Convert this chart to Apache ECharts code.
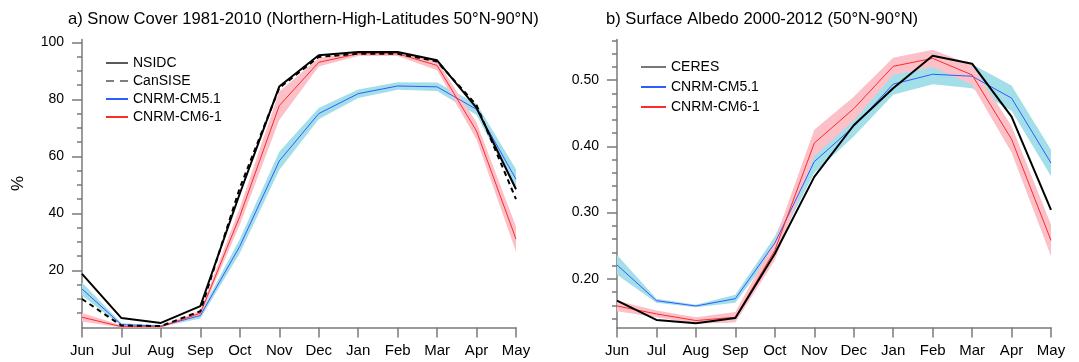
<!DOCTYPE html>
<html>
<head>
<meta charset="utf-8">
<script src="https://cdn.jsdelivr.net/npm/echarts@6/dist/echarts.min.js"></script>
<style>
html,body{margin:0;padding:0;background:#fff;}
#chart{width:1079px;height:362px;}
</style>
</head>
<body>
<div id="chart"></div>
<script>
// ---------- data ----------
var months = ['Jun','Jul','Aug','Sep','Oct','Nov','Dec','Jan','Feb','Mar','Apr','May'];

// a) Snow cover (%)
var snowNSIDC   = [18.8, 3.3, 1.6, 7.5, 47, 84.5, 95.5, 96.6, 96.6, 93.7, 77, 48.5];
var snowCanSISE = [10, 0.7, 0.5, 5.7, 49, 84, 94.9, 96, 96, 93.3, 78, 45];
var snowCM51    = [13.5, 1, 0.5, 4.2, 28.5, 58.4, 75, 82, 84.7, 84.4, 76.5, 52];
var snowCM51Lo  = [11.2, 0.5, 0.2, 3.2, 26, 55.2, 73, 80.5, 83.4, 82.9, 74.5, 48.5];
var snowCM51Hi  = [15.8, 1.5, 0.8, 5.2, 31, 61.6, 77, 83.5, 86, 85.9, 78.5, 55.5];
var snowCM61    = [3.6, 0.3, 0.3, 5, 39, 77.8, 93, 96, 96, 91.9, 68.9, 31];
var snowCM61Lo  = [2.1, 0, 0, 4, 36, 72.8, 91.5, 95.2, 95.2, 90.2, 65.9, 26.6];
var snowCM61Hi  = [5.1, 0.8, 0.6, 6, 42, 82.8, 94.5, 96.8, 96.8, 93.6, 71.9, 35.4];
var snowLabels  = [20, 40, 60, 80, 100];
var snowMinor   = [5, 10, 15, 25, 30, 35, 45, 50, 55, 65, 70, 75, 85, 90, 95];

// b) Surface albedo
var albCERES  = [0.167, 0.138, 0.133, 0.141, 0.238, 0.354, 0.432, 0.488, 0.537, 0.525, 0.445, 0.304];
var albCM51   = [0.221, 0.167, 0.159, 0.170, 0.254, 0.377, 0.430, 0.494, 0.509, 0.506, 0.473, 0.375];
var albCM51Lo = [0.206, 0.164, 0.157, 0.164, 0.244, 0.360, 0.415, 0.478, 0.494, 0.488, 0.454, 0.355];
var albCM51Hi = [0.236, 0.170, 0.161, 0.176, 0.264, 0.394, 0.445, 0.510, 0.524, 0.524, 0.492, 0.395];
var albCM61   = [0.159, 0.147, 0.137, 0.142, 0.243, 0.405, 0.457, 0.521, 0.533, 0.508, 0.411, 0.258];
var albCM61Lo = [0.151, 0.142, 0.132, 0.134, 0.228, 0.385, 0.439, 0.508, 0.520, 0.493, 0.391, 0.234];
var albCM61Hi = [0.167, 0.152, 0.142, 0.150, 0.258, 0.425, 0.475, 0.534, 0.546, 0.523, 0.431, 0.282];
var albLabels = [0.2, 0.3, 0.4, 0.5];
var albMinor  = [0.14, 0.16, 0.18, 0.22, 0.24, 0.26, 0.28, 0.32, 0.34, 0.36, 0.38, 0.42, 0.44, 0.46, 0.48, 0.52, 0.54, 0.56];

// ---------- style ----------
var FONT = "'Liberation Sans', Arial, Helvetica, sans-serif";
var AXC = '#7a7a7a';
var BLUE = '#2f5cff', BLUEBAND = '#a3dfe9';
var RED = '#ff2a2a', REDBAND = '#fbc0c8';

function diff(hi, lo){ return hi.map(function(v,i){ return +(v - lo[i]).toFixed(4); }); }

function bandSeries(name, lo, hi, color, xi, yi){
  return [
    {type:'line', name:name+'_lo', xAxisIndex:xi, yAxisIndex:yi, data:lo, stack:name,
     symbol:'none', lineStyle:{opacity:0}, silent:true, z:1},
    {type:'line', name:name+'_band', xAxisIndex:xi, yAxisIndex:yi, data:diff(hi, lo), stack:name,
     symbol:'none', lineStyle:{opacity:0}, areaStyle:{color:color, opacity:1}, silent:true, z:1}
  ];
}
function lineSeries(name, data, color, width, type, xi, yi, z){
  return {type:'line', name:name, xAxisIndex:xi, yAxisIndex:yi, data:data, symbol:'none',
    lineStyle:{color:color, width:width, type:type}, itemStyle:{color:color}, z:z};
}

function xAx(gi){
  return {type:'category', gridIndex:gi, data:months, boundaryGap:false,
    axisLine:{lineStyle:{color:AXC, width:1.5}},
    axisTick:{show:true, length:10, lineStyle:{color:AXC, width:1.5}, interval:0},
    axisLabel:{color:'#000', fontSize:15, fontFamily:FONT, margin:16, interval:0},
    splitLine:{show:false}};
}
function yMajor(gi, min, max, labels, fmt, name){
  return {type:'value', gridIndex:gi, min:min, max:max, position:'left', offset:0,
    name:name || '', nameLocation:'middle', nameGap:55, nameRotate:90,
    nameTextStyle:{color:'#000', fontSize:17, fontFamily:FONT},
    axisLine:{show:true, onZero:false, lineStyle:{color:AXC, width:1.5}},
    axisTick:{show:true, length:10, customValues:labels, lineStyle:{color:AXC, width:1.5}},
    axisLabel:{color:'#000', fontSize:14, fontFamily:FONT, margin:18, customValues:labels, formatter:fmt},
    splitLine:{show:false}};
}
function yMinor(gi, min, max, ticks){
  return {type:'value', gridIndex:gi, min:min, max:max, position:'left', offset:0,
    axisLine:{show:false, onZero:false},
    axisTick:{show:true, length:5, customValues:ticks, lineStyle:{color:AXC, width:1.5}},
    axisLabel:{show:false},
    splitLine:{show:false}};
}

var series = [].concat(
  bandSeries('s51', snowCM51Lo, snowCM51Hi, BLUEBAND, 0, 0),
  bandSeries('s61', snowCM61Lo, snowCM61Hi, REDBAND, 0, 0),
  [lineSeries('CNRM-CM5.1', snowCM51, BLUE, 1, 'solid', 0, 0, 3),
   lineSeries('CNRM-CM6-1', snowCM61, RED, 1, 'solid', 0, 0, 3),
   lineSeries('CanSISE', snowCanSISE, '#000', 2, [5,4], 0, 0, 4),
   lineSeries('NSIDC', snowNSIDC, '#000', 2, 'solid', 0, 0, 5)],
  bandSeries('a51', albCM51Lo, albCM51Hi, BLUEBAND, 1, 2),
  bandSeries('a61', albCM61Lo, albCM61Hi, REDBAND, 1, 2),
  [lineSeries('CNRM-CM5.1 ', albCM51, BLUE, 1, 'solid', 1, 2, 3),
   lineSeries('CNRM-CM6-1 ', albCM61, RED, 1, 'solid', 1, 2, 3),
   lineSeries('CERES', albCERES, '#000', 2, 'solid', 1, 2, 5)]
);

var legendText = {color:'#000', fontSize:14, fontFamily:FONT};
var option = {
  animation:false,
  backgroundColor:'#fff',
  title:[
    {text:'a) Snow Cover 1981-2010 (Northern-High-Latitudes 50°N-90°N)', left:68, top:11, padding:0,
     textStyle:{fontWeight:'normal', fontSize:16.6, color:'#000', fontFamily:FONT}},
    {text:'b) Surface Albedo 2000-2012 (50°N-90°N)', left:606, top:11, padding:0,
     textStyle:{fontWeight:'normal', fontSize:16.6, color:'#000', fontFamily:FONT}}
  ],
  grid:[
    {left:82, top:39.5, width:434, height:288, containLabel:false},
    {left:617, top:39.5, width:434, height:288, containLabel:false}
  ],
  legend:[
    {orient:'vertical', left:105, top:56, padding:0, itemWidth:22, itemHeight:14, itemGap:4,
     textStyle:legendText, itemStyle:{opacity:0},
     data:[{name:'NSIDC', lineStyle:{color:'#000', width:1.3}},
           {name:'CanSISE', lineStyle:{color:'#555', width:1.5, type:[8,6]}},
           'CNRM-CM5.1', 'CNRM-CM6-1'], selectedMode:false},
    {orient:'vertical', left:640, top:60, padding:0, itemWidth:25, itemHeight:14, itemGap:6,
     textStyle:legendText, itemStyle:{opacity:0},
     data:[{name:'CERES', lineStyle:{color:'#777', width:2}}, 'CNRM-CM5.1 ', 'CNRM-CM6-1 '], selectedMode:false,
     formatter:function(n){ return n.trim(); }}
  ],
  xAxis:[xAx(0), xAx(1)],
  yAxis:[
    yMajor(0, 0, 101, snowLabels, function(v){ return String(Math.round(v)); }, '%'),
    yMinor(0, 0, 101, snowMinor),
    yMajor(1, 0.1265, 0.5615, albLabels, function(v){ return v.toFixed(2); }, ''),
    yMinor(1, 0.1265, 0.5615, albMinor)
  ],
  series:series
};

var chart = echarts.init(document.getElementById('chart'), null, {renderer:'canvas'});
chart.setOption(option);
</script>
</body>
</html>
